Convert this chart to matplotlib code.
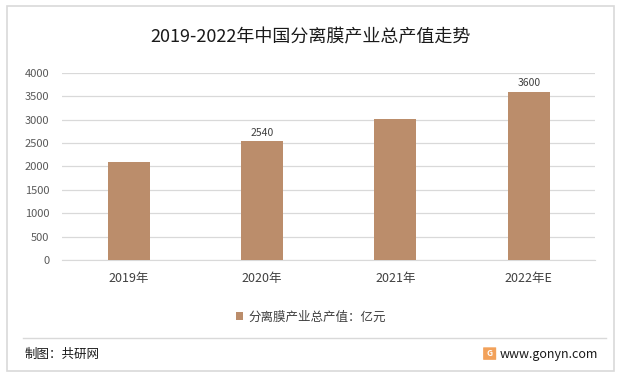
import matplotlib.pyplot as plt
from matplotlib.patches import Rectangle, FancyBboxPatch

plt.rcParams['font.family'] = ['Noto Sans CJK SC', 'DejaVu Sans']

# data
years = ['2019年', '2020年', '2021年', '2022年E']
values = [2100, 2540, 3020, 3600]
shown_labels = {1: '2540', 3: '3600'}
series_name = '分离膜产业总产值：亿元'

bar_color = '#BB8D6B'

fig = plt.figure(figsize=(6.21, 3.80), dpi=100)
ax = fig.add_axes([0.0998, 0.316, 0.859, 0.492])

x = range(len(years))
bars = ax.bar(x, values, width=0.315, color=bar_color, zorder=3, label=series_name)

for i, txt in shown_labels.items():
    ax.text(i, values[i] + 70, txt, ha='center', va='bottom', fontsize=7.5, color='#404040')

ax.set_xlim(-0.5, len(years) - 0.5)
ax.set_ylim(0, 4000)
ax.set_yticks(range(0, 4001, 500))
ax.set_xticks(list(x))
ax.set_xticklabels(years, fontsize=9, color='#404040')
ax.tick_params(axis='y', labelsize=8, colors='#595959', length=0, pad=9)
ax.tick_params(axis='x', length=0, pad=9)
ax.grid(axis='y', color='#D9D9D9', linewidth=0.9, zorder=0)
for s in ['top', 'right', 'left']:
    ax.spines[s].set_visible(False)
ax.spines['bottom'].set_color('#D9D9D9')

fig.text(0.5, 0.902, '2019-2022年中国分离膜产业总产值走势', ha='center', va='center',
         fontsize=13, color='#1a1a1a')

# legend
fig.legend(handles=[bars], labels=[series_name], loc='center', bbox_to_anchor=(0.5, 0.166),
           frameon=False, fontsize=9, handlelength=0.6, handleheight=0.6, handletextpad=0.4,
           labelcolor='#404040')

# outer border and footer separator
fig.patches.append(Rectangle((0.011, 0.024), 0.978, 0.96, transform=fig.transFigure,
                             fill=False, edgecolor='#D9D9D9', linewidth=1.2))
fig.lines.append(plt.Line2D([0.037, 0.976], [0.111, 0.111], transform=fig.transFigure,
                            color='#D9D9D9', linewidth=1))

fig.text(0.04, 0.068, '制图：共研网', ha='left', va='center', fontsize=9, color='#1a1a1a')
fig.text(0.963, 0.068, 'www.gonyn.com', ha='right', va='center', fontsize=9, color='#1a1a1a')
# small logo
fig.patches.append(FancyBboxPatch((0.779, 0.054), 0.019, 0.031, transform=fig.transFigure,
                                  boxstyle='round,pad=0.001', facecolor='#F2A15A', edgecolor='none'))
fig.text(0.7885, 0.0695, 'G', ha='center', va='center', fontsize=6, color='white', weight='bold')

fig.savefig('out.png', dpi=100)
